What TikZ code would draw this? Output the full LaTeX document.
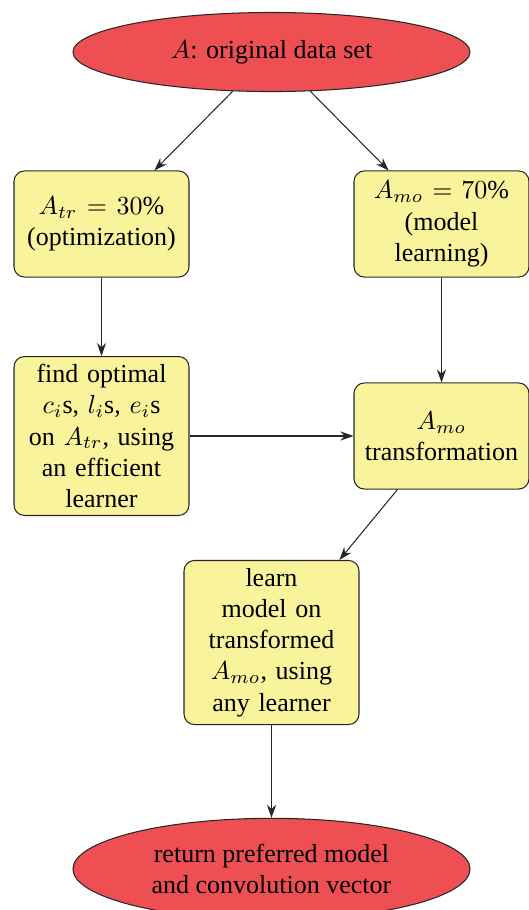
\documentclass[tikz,border=0pt]{standalone}
\usepackage{fontspec}
\setmainfont{Liberation Serif}
\usetikzlibrary{shapes.geometric,arrows.meta}
\definecolor{ellred}{HTML}{EE4F53}
\definecolor{boxyel}{HTML}{F9F39B}
\tikzset{
  ell/.style={ellipse, draw=black!85, fill=ellred, inner sep=0pt, minimum width=152.7pt, align=center},
  stepbox/.style={rectangle, rounded corners=4pt, draw=black!85, fill=boxyel, minimum width=67.3pt, text width=61pt, inner sep=3pt, align=center, minimum height=40.8pt},
  arr/.style={-{Stealth[length=5pt,width=3.5pt]}, draw=black!85}
}
\begin{document}
\begin{tikzpicture}[x=0.3846pt, y=-0.3846pt]
\useasboundingbox (0,0) rectangle (529,910);
\node[ell, minimum height=30.4pt] (top) at (271.5,52) {$A$: original data set};
\node[stepbox] (atr) at (101.5,224) {$A_{tr}=30\%$\\(optimization)};
\node[stepbox] (amo) at (441.5,224) {$A_{mo}=70\%$\\(model\\learning)};
\node[stepbox] (find) at (101.5,436) {find optimal\\$c_i$s, $l_i$s, $e_i$s\\on $A_{tr}$, using\\an efficient\\learner};
\node[stepbox] (trans) at (441.5,436) {$A_{mo}$\\transformation};
\node[stepbox] (learn) at (271.5,642.5) {learn\\model on\\transformed\\$A_{mo}$, using\\any learner};
\node[ell, minimum height=39pt] (ret) at (271.5,869) {return preferred model\\and convolution vector};
\draw[arr] (top) -- (atr);
\draw[arr] (top) -- (amo);
\draw[arr] (atr) -- (find);
\draw[arr] (amo) -- (trans);
\draw[arr] (find) -- (trans);
\draw[arr] (trans) -- (learn);
\draw[arr] (learn) -- (ret);
\end{tikzpicture}
\end{document}
